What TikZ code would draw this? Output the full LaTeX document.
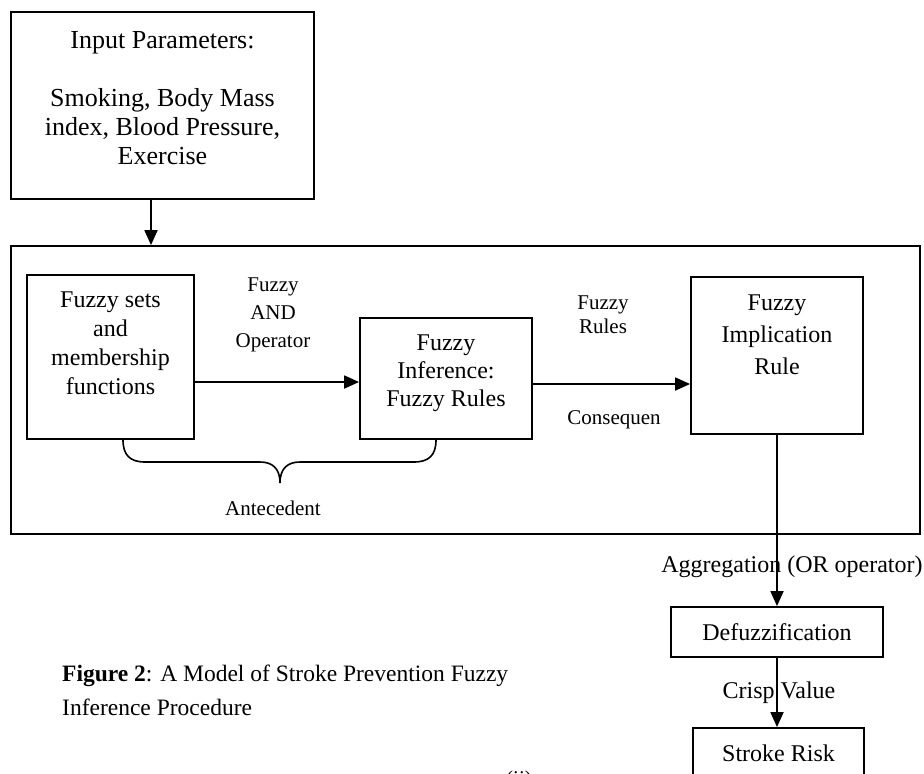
\documentclass[tikz,border=0pt]{standalone}
\usepackage{fontspec}
\setmainfont{Liberation Serif}
\usetikzlibrary{arrows.meta}
\tikzset{
  box/.style={draw, line width=1.8pt, inner sep=0pt, align=center},
  txt/.style={inner sep=0pt, align=center, font=\fontsize{24}{31}\selectfont},
  lbl/.style={inner sep=0pt, align=center, font=\fontsize{21}{28}\selectfont},
  arr/.style={line width=1.8pt, -{Triangle[length=15pt,width=13pt]}},
}
\begin{document}
\begin{tikzpicture}[x=1pt,y=-1pt]
\useasboundingbox (0,0) rectangle (924,774);
% boxes
\node[box, minimum width=303, minimum height=187] (input) at (162.5,105.5) {};
\node[inner sep=0pt, align=center, font=\fontsize{26}{29}\selectfont] (inputtxt) at (162.5,98) {Input Parameters:\\[29pt]Smoking, Body Mass\\index, Blood Pressure,\\Exercise};
\node[box, minimum width=909, minimum height=288] (outer) at (465.5,390) {};
\node[box, minimum width=167, minimum height=164] (sets) at (110.5,357) {};
\node[txt, font=\fontsize{24}{29}\selectfont] (setstxt) at (110.5,343) {Fuzzy sets\\and\\membership\\functions};
\node[box, minimum width=172, minimum height=121] (infer) at (446,378.5) {};
\node[txt, font=\fontsize{24}{28}\selectfont] (infertxt) at (446,373) {Fuzzy\\Inference:\\Fuzzy Rules};
\node[box, minimum width=172, minimum height=157] (impl) at (777,355.5) {};
\node[txt, font=\fontsize{24}{32}\selectfont] (impltxt) at (777,335) {Fuzzy\\Implication\\Rule};
\node[box, minimum width=212, minimum height=50] (defuzz) at (777,632) {};
\node[txt] (defuzztxt) at (777,632) {Defuzzification};
\node[box, minimum width=171, minimum height=80] (stroke) at (778.5,768) {};
\node[txt] (stroketxt) at (778.5,753) {Stroke Risk};
% labels
\node[lbl] (andlbl) at (273,314.5) {Fuzzy\\AND\\Operator};
\node[lbl, font=\fontsize{21}{24}\selectfont] (ruleslbl) at (603,315) {Fuzzy\\Rules};
\node[lbl] (conslbl) at (614,420) {Consequen};
\node[lbl] (antlbl) at (273,508) {Antecedent};
\node[txt] (agglbl) at (792,567) {Aggregation (OR operator)};
\node[txt] (crisplbl) at (779,693) {Crisp Value};
\node[inner sep=0pt, align=left, anchor=west, font=\fontsize{23.5}{34}\selectfont] (caption) at (62,690) {\textbf{Figure 2}: A Model of Stroke Prevention Fuzzy\\Inference Procedure};
\node[lbl] (ii) at (519,780) {(ii)};
% brace
\coordinate (bl) at (123,440);
\coordinate (br) at (436,440);
\coordinate (btip) at (280,483);
\draw[line width=1.6pt] (bl) .. controls (123,455) and (130,462) .. (145,462) -- (260,462) .. controls (272,462) and (280,468) .. (btip);
\draw[line width=1.6pt] (br) .. controls (436,455) and (429,462) .. (414,462) -- (300,462) .. controls (288,462) and (280,468) .. (btip);
% connectors
\draw[arr] ([xshift=-11.5pt]input.south) -- ([xshift=-11.5pt]input.south |- outer.north);
\draw[arr] (sets.east |- 0,382) -- (infer.west |- 0,382);
\draw[arr] (infer.east |- 0,384) -- (impl.west |- 0,384);
\draw[arr] (impl.south) -- (impl.south |- defuzz.north);
\draw[arr] (defuzz.south) -- (defuzz.south |- stroke.north);
\end{tikzpicture}
\end{document}
